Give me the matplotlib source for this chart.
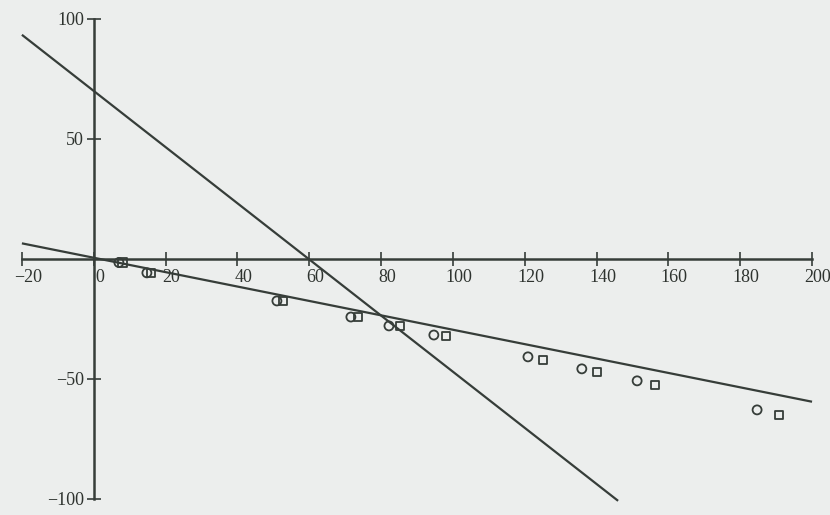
import numpy as np
import matplotlib
matplotlib.use('Agg')
import matplotlib.pyplot as plt
from matplotlib.transforms import ScaledTranslation

# points
circle_x = [7.0, 14.8, 51.0, 71.6, 82.2, 94.7, 120.9, 135.9, 151.3, 184.7]
circle_y = [-1.5, -5.8, -17.5, -24.2, -27.9, -31.7, -40.8, -45.8, -50.8, -62.9]
square_x = [8.0, 15.9, 52.6, 73.5, 85.2, 98.0, 125.0, 140.1, 156.3, 190.8]
square_y = [-1.5, -5.8, -17.5, -24.2, -28.0, -32.0, -42.0, -47.0, -52.5, -65.0]

# the two straight lines (end points)
steep_x = [-20, 146]
steep_y = [93.4, -100.8]
flat_x = [-20, 200]
flat_y = [6.5, -59.5]

xticks = [-20, 0, 20, 40, 60, 80, 100, 120, 140, 160, 180, 200]
yticks = [-100, -50, 50, 100]

ink = '#363d39'
bg = '#eceeed'

plt.rcParams['font.family'] = ['Liberation Serif', 'DejaVu Serif']

fig = plt.figure(figsize=(8.3, 5.15), dpi=100, facecolor=bg)
ax = fig.add_axes([0, 0, 1, 1])
ax.set_facecolor(bg)
ax.set_xlim(-26.1, 205.0)
ax.set_ylim(-106.7, 107.9)

ax.plot(steep_x, steep_y, color=ink, lw=1.6, solid_capstyle='butt')
ax.plot(flat_x, flat_y, color=ink, lw=1.6, solid_capstyle='butt')
ax.scatter(circle_x, circle_y, s=42, marker='o', facecolors='none', edgecolors=ink, linewidths=1.3, zorder=3)
ax.scatter(square_x, square_y, s=34, marker='s', facecolors='none', edgecolors=ink, linewidths=1.3, zorder=3)

# axes through the origin
for side in ['top', 'right']:
    ax.spines[side].set_visible(False)
ax.spines['left'].set_position(('data', 0))
ax.spines['bottom'].set_position(('data', 0))
ax.spines['left'].set_bounds(-100, 100)
ax.spines['bottom'].set_bounds(-20, 200)
for side in ['left', 'bottom']:
    ax.spines[side].set_color(ink)
    ax.spines[side].set_linewidth(1.8)

ax.set_xticks(xticks)
ax.set_yticks(yticks)
ax.set_yticklabels([str(v).replace('-', '\u2212') for v in yticks])
ax.set_xticklabels([str(v).replace('-', '\u2212') for v in xticks])
ax.tick_params(direction='inout', length=10, width=1.2, color=ink,
               labelcolor='#2e332f', labelsize=13, pad=2)

shift = ScaledTranslation(6 / 100, 0, fig.dpi_scale_trans)
for lab in ax.get_xticklabels():
    lab.set_transform(lab.get_transform() + shift)

fig.savefig('out.png', dpi=100, facecolor=bg)
